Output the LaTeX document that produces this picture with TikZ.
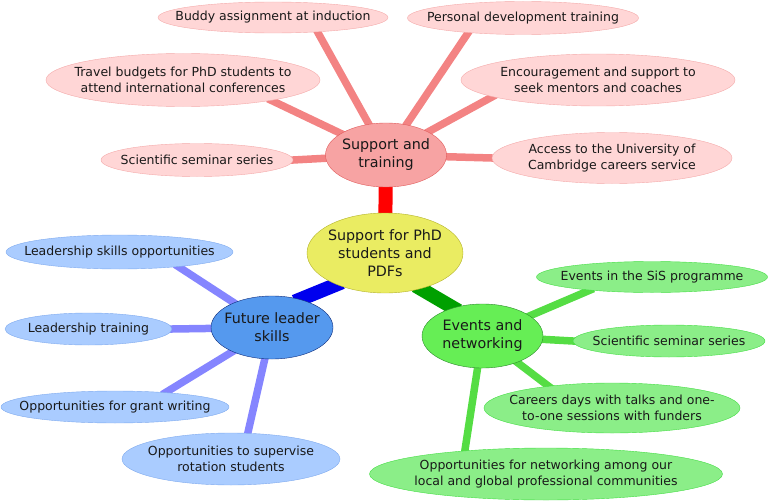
\documentclass[tikz,border=0pt]{standalone}
\usepackage{fontspec}
\setmainfont{DejaVu Sans}
\usetikzlibrary{shapes.geometric,backgrounds}
\definecolor{corefill}{HTML}{EAEC62}
\definecolor{coreline}{HTML}{B3B32A}
\definecolor{hubRfill}{HTML}{F7A3A3}
\definecolor{hubRline}{HTML}{E05A5A}
\definecolor{hubBfill}{HTML}{5599EE}
\definecolor{hubBline}{HTML}{0D2A7A}
\definecolor{hubGfill}{HTML}{66EE55}
\definecolor{hubGline}{HTML}{2A8A2A}
\definecolor{leafRfill}{HTML}{FFD6D6}
\definecolor{leafRline}{HTML}{F4AAAA}
\definecolor{leafBfill}{HTML}{AACCFF}
\definecolor{leafBline}{HTML}{7FAAEE}
\definecolor{leafGfill}{HTML}{8BEE88}
\definecolor{leafGline}{HTML}{44DD44}
\definecolor{twigR}{HTML}{F38383}
\definecolor{twigB}{HTML}{8585FF}
\definecolor{twigG}{HTML}{55DD44}
\definecolor{branchR}{HTML}{FF0000}
\definecolor{branchB}{HTML}{0000EE}
\definecolor{branchG}{HTML}{00A000}
\tikzset{
 bubble/.style={ellipse,draw,align=center,inner xsep=-40pt,inner ysep=-12pt,text=black!90},
 leaf/.style={bubble,font=\fontsize{12.5}{16}\selectfont},
 hub/.style={bubble,font=\fontsize{14.3}{18}\selectfont},
 core/.style={hub,fill=corefill,draw=coreline},
 hubR/.style={hub,fill=hubRfill,draw=hubRline},
 hubB/.style={hub,fill=hubBfill,draw=hubBline},
 hubG/.style={hub,fill=hubGfill,draw=hubGline},
 leafR/.style={leaf,fill=leafRfill,draw=leafRline},
 leafB/.style={leaf,fill=leafBfill,draw=leafBline},
 leafG/.style={leaf,fill=leafGfill,draw=leafGline},
 branch/.style={line width=14pt,shorten <=-6pt,shorten >=-6pt},
 twig/.style={line width=7.5pt,shorten >=-4pt}
}
\begin{document}
\begin{tikzpicture}[x=1pt,y=-1pt]
 \useasboundingbox (0,0) rectangle (771,503);
 \path (385,253) node[core,minimum width=156pt,minimum height=80pt] (central) {Support for PhD\\students and\\PDFs}
 	(386,155) node[hubR,minimum width=121pt,minimum height=64pt] (support) {Support and\\training}
 	(272,327.5) node[hubB,minimum width=122pt,minimum height=63pt] (leader) {Future leader\\skills}
 	(482.5,336) node[hubG,minimum width=121pt,minimum height=64pt] (events) {Events and\\networking};
 % support and training
 \path (273,17.5) node[leafR,minimum width=230pt,minimum height=31pt] (buddy) {Buddy assignment at induction}
 	(523,18) node[leafR,minimum width=231pt,minimum height=33pt] (persdev) {Personal development training}
 	(183,80) node[leafR,minimum width=274pt,minimum height=53pt] (travel) {Travel budgets for PhD students to\\attend international conferences}
 	(598,80) node[leafR,minimum width=274pt,minimum height=52pt] (mentors) {Encouragement and support to\\seek mentors and coaches}
 	(197,160) node[leafR,minimum width=192pt,minimum height=33pt] (seminarR) {Scientific seminar series}
 	(612,158) node[leafR,minimum width=240pt,minimum height=51pt] (careersvc) {Access to the University of\\Cambridge careers service};
 % future leader skills
 \path (119.5,252) node[leafB,minimum width=227pt,minimum height=34pt] (leadopp) {Leadership skills opportunities}
 	(88.5,329) node[leafB,minimum width=167pt,minimum height=32pt] (leadtrain) {Leadership training}
 	(115,407) node[leafB,minimum width=228pt,minimum height=32pt] (grants) {Opportunities for grant writing}
 	(231,459) node[leafB,minimum width=218pt,minimum height=52pt] (rotation) {Opportunities to supervise\\rotation students};
 % events and networking
 \path (652,277) node[leafG,minimum width=231pt,minimum height=31pt] (sis) {Events in the SiS programme}
 	(669,341) node[leafG,minimum width=192pt,minimum height=32pt] (seminarG) {Scientific seminar series}
 	(612,408) node[leafG,minimum width=256pt,minimum height=50pt] (careerdays) {Careers days with talks and one-\\to-one sessions with funders}
 	(546,474) node[leafG,minimum width=353pt,minimum height=52pt] (networking) {Opportunities for networking among our\\local and global professional communities};
 \begin{pgfonlayer}{background}
 \draw[branch,branchR] (central) -- (support);
 \draw[branch,branchB] (central.213) -- (leader.45);
 \draw[branch,branchG] (central.-45) -- (events.136);
 \draw[twig,twigR] (support.center) -- (buddy.-18);
 \draw[twig,twigR] (support.center) -- (persdev.195);
 \draw[twig,twigR] (support.center) -- (travel.-13);
 \draw[twig,twigR] (support.center) -- (mentors.189);
 \draw[twig,twigR] (support.center) -- (seminarR.0);
 \draw[twig,twigR] (support.center) -- (careersvc.180);
 \draw[twig,twigB] (leader.center) -- (leadopp.-14);
 \draw[twig,twigB] (leader.center) -- (leadtrain.0);
 \draw[twig,twigB] (leader.center) -- (grants.16);
 \draw[twig,twigB] (leader.center) -- (rotation.57);
 \draw[twig,twigG] (events.center) -- (sis.192);
 \draw[twig,twigG] (events.center) -- (seminarG.180);
 \draw[twig,twigG] (events.center) -- (careerdays.161);
 \draw[twig,twigG] (events.center) -- (networking.164);
 \end{pgfonlayer}
\end{tikzpicture}
\end{document}
